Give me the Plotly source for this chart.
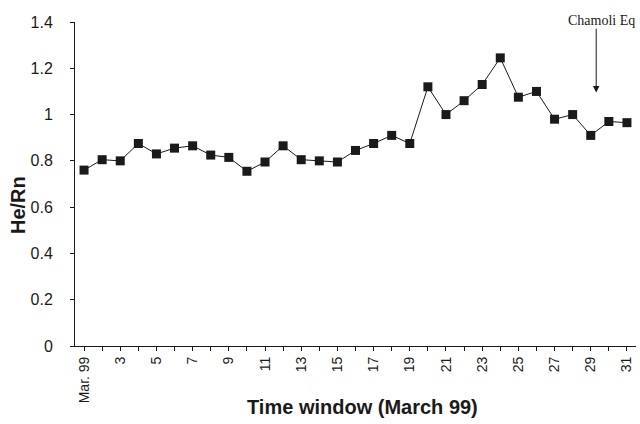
import plotly.graph_objects as go

days = list(range(1, 32))
he_rn = [0.76, 0.805, 0.80, 0.875, 0.83, 0.855, 0.865, 0.825, 0.815, 0.755,
         0.795, 0.865, 0.805, 0.80, 0.795, 0.845, 0.875, 0.91, 0.875, 1.12,
         1.0, 1.06, 1.13, 1.245, 1.075, 1.10, 0.98, 1.0, 0.91, 0.97, 0.965]
tick_labels = ["Mar. 99" if d == 1 else (str(d) if d % 2 == 1 else "") for d in days]
y_ticks = [0, 0.2, 0.4, 0.6, 0.8, 1.0, 1.2, 1.4]
y_tick_labels = ["0", "0.2", "0.4", "0.6", "0.8", "1", "1.2", "1.4"]
event_day = 29.3
event_label = "Chamoli Eq"
x_title = "Time window (March 99)"
y_title = "He/Rn"

ink = "#1a1a1a"

fig = go.Figure()
fig.add_trace(go.Scatter(
    x=days, y=he_rn, mode="lines+markers",
    line=dict(color=ink, width=1),
    marker=dict(symbol="square", size=9, color=ink),
    showlegend=False, cliponaxis=False,
))

fig.add_annotation(x=event_day, y=1.095, ax=event_day, ay=1.378,
                   xref="x", yref="y", axref="x", ayref="y",
                   text="", showarrow=True, arrowhead=2, arrowsize=1.3,
                   arrowwidth=1, arrowcolor=ink)
fig.add_annotation(x=27.62, y=1.004, xref="x", yref="paper", text=event_label,
                   showarrow=False, xanchor="left", yanchor="middle",
                   font=dict(family="Liberation Serif, Times New Roman, serif", size=14, color=ink))
fig.add_annotation(x=0.512, y=-0.188, xref="paper", yref="paper",
                   text="<b>" + x_title + "</b>", showarrow=False,
                   xanchor="center", yanchor="middle", font=dict(size=20, color=ink))
fig.add_annotation(x=-0.1016, y=0.435, xref="paper", yref="paper",
                   text="<b>" + y_title + "</b>", showarrow=False, textangle=-90,
                   xanchor="center", yanchor="middle", font=dict(size=20, color=ink))

fig.update_layout(
    width=640, height=424,
    margin=dict(l=75, r=4, t=22, b=78),
    plot_bgcolor="white", paper_bgcolor="white",
    font=dict(family="Liberation Sans, Arial, sans-serif", color=ink),
    xaxis=dict(
        range=[0.5, 31.5], tickmode="array", tickvals=days, ticktext=tick_labels,
        tickangle=-90, ticks="outside", ticklen=4, tickcolor=ink,
        showline=True, linecolor=ink, linewidth=1, showgrid=False, zeroline=False,
        tickfont=dict(size=14), automargin=False,
    ),
    yaxis=dict(
        range=[0, 1.4], tickmode="array", tickvals=y_ticks, ticktext=y_tick_labels,
        ticks="outside", ticklen=4, tickcolor=ink, ticklabelstandoff=14,
        showline=True, linecolor=ink, linewidth=1, showgrid=False, zeroline=False,
        tickfont=dict(size=16), automargin=False,
    ),
)

fig.write_html("out.html", config={"displayModeBar": False},
               post_script="document.body.style.margin='0';")
